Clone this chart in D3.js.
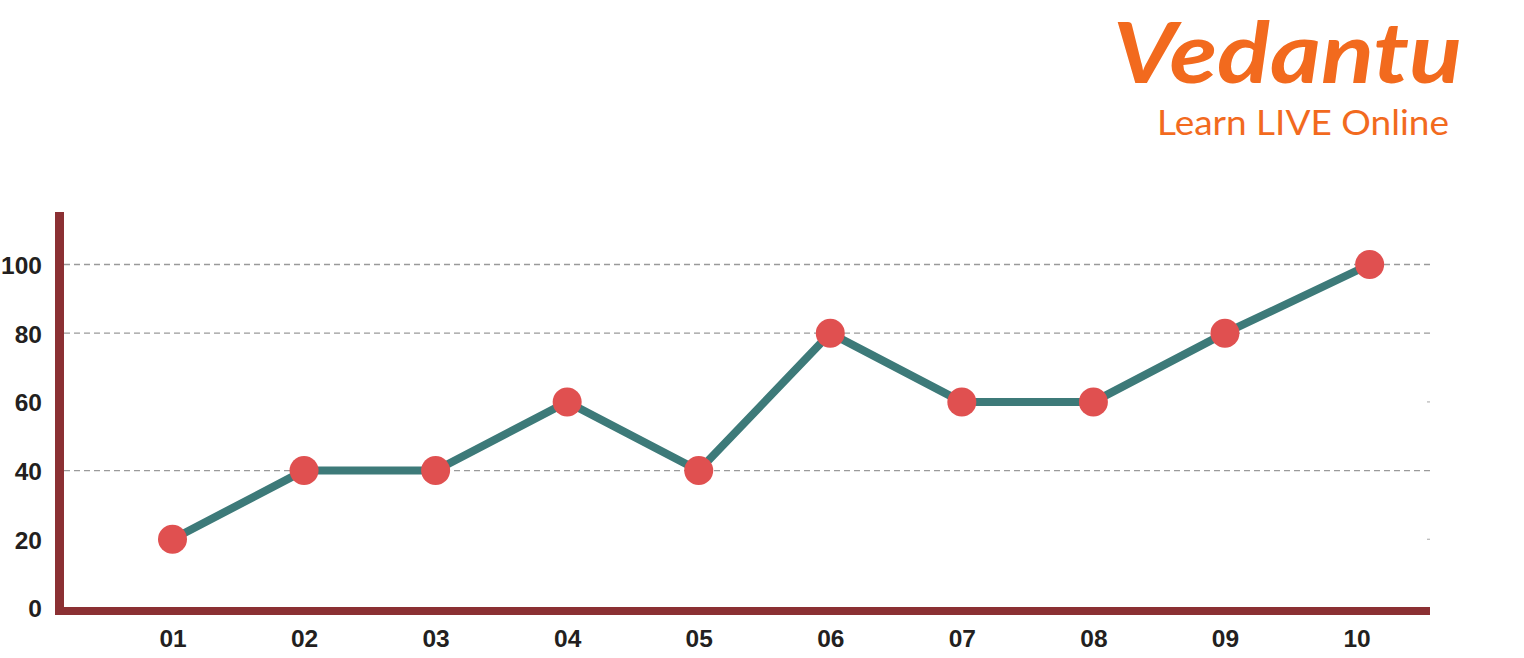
<!DOCTYPE html>
<html>
<head>
<meta charset="utf-8">
<script src="https://cdn.jsdelivr.net/npm/d3@7"></script>
<style>
  html, body { margin: 0; padding: 0; background: #fff; }
  svg { display: block; }
</style>
</head>
<body>
<svg id="chart" width="1524" height="658"></svg>
<script>
// Data
const categories = ["01", "02", "03", "04", "05", "06", "07", "08", "09", "10"];
const xValues = [1, 2, 3, 4, 5, 6, 7, 8, 9, 10.1];
const values = [20, 40, 40, 60, 40, 80, 60, 60, 80, 100];
const yTicks = [0, 20, 40, 60, 80, 100];
const fullGridTicks = [40, 80, 100];
const stubGridTicks = [20, 60];

const svg = d3.select("#chart");

const x = d3.scaleLinear().domain([1, 10]).range([172.5, 1356.5]);
const y = d3.scaleLinear().domain([0, 100]).range([608, 264.5]);

const axisLeftX = 59.5, axisRightX = 1430;
const textColor = "#231f20";
const axisColor = "#8b3033";

// gridlines
svg.append("g").selectAll("line.grid")
  .data(fullGridTicks).join("line")
  .attr("x1", 64).attr("x2", axisRightX)
  .attr("y1", d => y(d)).attr("y2", d => y(d))
  .attr("stroke", "#9a9a9a").attr("stroke-width", 1.3)
  .attr("stroke-dasharray", "6,4");
svg.append("g").selectAll("line.stub")
  .data(stubGridTicks).join("line")
  .attr("x1", axisRightX - 3).attr("x2", axisRightX)
  .attr("y1", d => y(d)).attr("y2", d => y(d))
  .attr("stroke", "#bbbbbb").attr("stroke-width", 1.3);

// y axis labels
const yAxis = d3.axisLeft(y).tickValues(yTicks).tickSize(0).tickPadding(0).tickFormat(d3.format("d"));
const gy = svg.append("g").attr("transform", "translate(42,0)").call(yAxis);
gy.select(".domain").remove();
gy.selectAll("text")
  .attr("font-family", "Liberation Sans, Arial, sans-serif")
  .attr("font-weight", "bold").attr("font-size", 24.5)
  .attr("fill", textColor).attr("dy", "0.36em");

// x axis labels
const xAxis = d3.axisBottom(x).tickValues(d3.range(1, 11)).tickSize(0).tickPadding(0)
  .tickFormat((d, i) => categories[i]);
const gx = svg.append("g").attr("transform", "translate(0,629)").call(xAxis);
gx.select(".domain").remove();
gx.selectAll("text")
  .attr("font-family", "Liberation Sans, Arial, sans-serif")
  .attr("font-weight", "bold").attr("font-size", 24.5)
  .attr("fill", textColor).attr("dy", "0.75em");

// axis lines
svg.append("line")
  .attr("x1", axisLeftX).attr("x2", axisLeftX)
  .attr("y1", 212).attr("y2", 615)
  .attr("stroke", axisColor).attr("stroke-width", 9);
svg.append("line")
  .attr("x1", 55).attr("x2", axisRightX)
  .attr("y1", 611).attr("y2", 611)
  .attr("stroke", axisColor).attr("stroke-width", 8);

// line
const pts = values.map((v, i) => ({ x: xValues[i], v }));
const line = d3.line().x(d => x(d.x)).y(d => y(d.v));
svg.append("path").datum(pts)
  .attr("d", line).attr("fill", "none")
  .attr("stroke", "#3d7a79").attr("stroke-width", 8)
  .attr("stroke-linejoin", "miter");

// points
svg.append("g").selectAll("circle")
  .data(pts).join("circle")
  .attr("cx", d => x(d.x)).attr("cy", d => y(d.v))
  .attr("r", 14.5).attr("fill", "#e05050");

// logo
const orange = "#f26a1e";
svg.append("text")
  .attr("x", 1113).attr("y", 83)
  .attr("font-family", "Lato, sans-serif").attr("font-style", "italic")
  .attr("font-weight", "bold").attr("font-size", 84)
  .attr("textLength", 349).attr("lengthAdjust", "spacingAndGlyphs")
  .attr("fill", orange).text("Vedantu");
svg.append("text")
  .attr("x", 1157).attr("y", 135)
  .attr("font-family", "Lato, sans-serif")
  .attr("font-size", 34)
  .attr("textLength", 292).attr("lengthAdjust", "spacingAndGlyphs")
  .attr("fill", orange).text("Learn LIVE Online");
</script>
</body>
</html>
